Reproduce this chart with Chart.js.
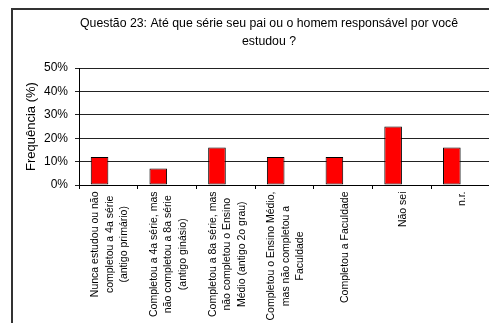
<!DOCTYPE html>
<html>
<head>
<meta charset="utf-8">
<script src="https://cdn.jsdelivr.net/npm/chart.js@4.4.0/dist/chart.umd.min.js"></script>
<style>
  html, body { margin: 0; padding: 0; background: #fff; overflow: hidden; }
  #frame { position: absolute; left: 11px; top: 8px; width: 600px; height: 400px; border: 2px solid #333; }
  #wrap { position: absolute; left: 0; top: 0; width: 520px; height: 323px; }
</style>
</head>
<body>
<div id="frame"></div>
<div id="wrap"><canvas id="myChart" width="520" height="323"></canvas></div>
<script>
const FONT = "'Liberation Sans', Arial, sans-serif";

const tituloLinhas = ['Questão 23: Até que série seu pai ou o homem responsável por você', 'estudou ?'];

const categories = [
  ['Nunca estudou ou não', 'completou a 4a série', '(antigo primário)'],
  ['Completou a 4a série, mas', 'não completou a 8a série', '(antigo ginásio)'],
  ['Completou a 8a série, mas', 'não completou o Ensino', 'Médio (antigo 2o grau)'],
  ['Completou o Ensino Médio,', 'mas não completou a', 'Faculdade'],
  'Completou a Faculdade',
  'Não sei',
  'n.r.'
];
const frequencia = [12, 7, 16, 12, 12, 25, 16];
// segunda série da planilha, sem valores (só ocupa o espaço ao lado da barra)
const serieVazia = [null, null, null, null, null, null, null];
const yTicks = [0, 10, 20, 30, 40, 50];

// título em duas linhas, centrado na caixa do gráfico
const tituloPlugin = {
  id: 'tituloQuestao',
  afterDraw(chart) {
    const ctx = chart.ctx;
    ctx.save();
    ctx.font = '12.3px ' + FONT;
    ctx.fillStyle = '#000';
    ctx.textAlign = 'center';
    ctx.textBaseline = 'alphabetic';
    tituloLinhas.forEach((linha, i) => ctx.fillText(linha, 269, 26.5 + i * 18));
    ctx.restore();
  }
};

// rótulos das categorias na vertical, linhas centradas entre si
const rotulosPlugin = {
  id: 'rotulosCategorias',
  afterDraw(chart) {
    const xs = chart.scales.x;
    const ctx = chart.ctx;
    ctx.save();
    ctx.font = '10.5px ' + FONT;
    ctx.fillStyle = '#000';
    ctx.textAlign = 'center';
    ctx.textBaseline = 'middle';
    categories.forEach((rotulo, i) => {
      const linhas = Array.isArray(rotulo) ? rotulo : [rotulo];
      const maior = Math.max(...linhas.map(l => ctx.measureText(l).width));
      const cx = xs.getPixelForValue(i) + 1.5;
      const cy = xs.top + 6.5 + maior / 2;
      ctx.save();
      ctx.translate(cx, cy);
      ctx.rotate(-Math.PI / 2);
      linhas.forEach((l, j) => ctx.fillText(l, 0, (j - (linhas.length - 1) / 2) * 14.5));
      ctx.restore();
    });
    ctx.restore();
  }
};

const ctx = document.getElementById('myChart').getContext('2d');
const myChart = new Chart(ctx, {
  type: 'bar',
  data: {
    labels: categories,
    datasets: [{
      label: 'Frequência',
      data: frequencia,
      backgroundColor: '#FF0000',
      borderColor: '#000',
      borderWidth: 1,
      borderSkipped: false
    }, {
      label: '',
      data: serieVazia,
      backgroundColor: '#FF0000'
    }]
  },
  options: {
    responsive: false,
    animation: false,
    layout: { padding: { top: 68, right: 30, bottom: 0, left: 0 } },
    datasets: { bar: { categoryPercentage: 0.6, barPercentage: 1 } },
    plugins: { legend: { display: false }, tooltip: { enabled: false } },
    scales: {
      x: {
        ticks: { display: false },
        grid: { drawOnChartArea: false, offset: true, tickLength: 4, color: '#000' },
        border: { color: '#000' },
        afterFit(scale) { scale.height = 323 - 185; }
      },
      y: {
        min: 0,
        max: 50,
        afterBuildTicks(scale) { scale.ticks = yTicks.map(v => ({ value: v })); },
        ticks: {
          callback: v => v + '%',
          color: '#000',
          padding: 7,
          font: { family: FONT, size: 12 }
        },
        grid: { color: '#222', tickLength: 4 },
        border: { color: '#000' },
        title: {
          display: true,
          text: 'Frequência (%)',
          color: '#000',
          font: { family: FONT, size: 13 },
          padding: { top: 24, bottom: 0 }
        },
        afterFit(scale) { scale.width = 79; }
      }
    }
  },
  plugins: [tituloPlugin, rotulosPlugin]
});
</script>
</body>
</html>
